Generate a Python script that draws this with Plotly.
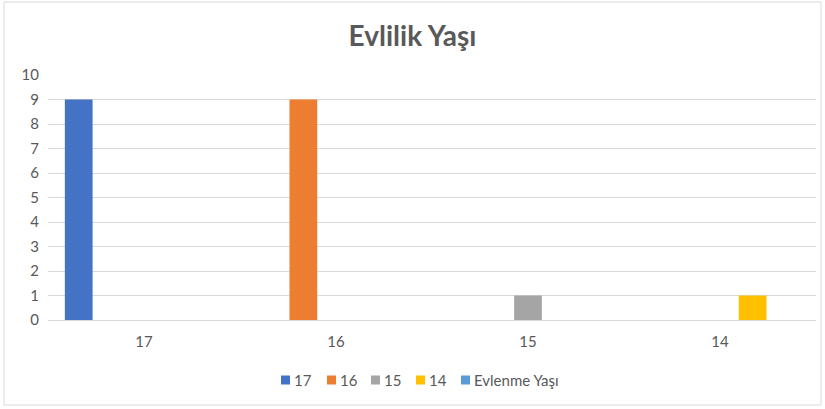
import plotly.graph_objects as go

categories = ["17", "16", "15", "14"]
series_names = ["17", "16", "15", "14", "Evlenme Yaşı"]
s17 = [9, 0, 0, 0]
s16 = [0, 9, 0, 0]
s15 = [0, 0, 1, 0]
s14 = [0, 0, 0, 1]
s_evlenme = [0, 0, 0, 0]
series_values = [s17, s16, s15, s14, s_evlenme]
colors = ["#4472C4", "#ED7D31", "#A5A5A5", "#FFC000", "#5B9BD5"]

fig = go.Figure()
for name, vals, col in zip(series_names, series_values, colors):
    fig.add_trace(go.Bar(x=categories, y=vals, name=name, showlegend=False,
                         marker=dict(color=col, line=dict(width=0))))

W, H = 825, 409
ml, mr, mt, mb = 48, 9, 75, 89
pw = W - ml - mr
ph = H - mt - mb

def px_x(p):
    return (p - ml) / pw

def px_y(p):
    return (H - mb - p) / ph

font_family = "Lato, 'Open Sans', sans-serif"

# manual legend (Excel style: small square right next to its label)
legend_square_x = [281, 327, 371, 416, 461]
legend_y = 380
shapes = [dict(type="rect", xref="paper", yref="paper",
               x0=px_x(4), x1=px_x(821), y0=px_y(405), y1=px_y(2),
               line=dict(color="#D9D9D9", width=1), fillcolor="rgba(0,0,0,0)",
               layer="below")]
annotations = []
for sx, name, col in zip(legend_square_x, series_names, colors):
    shapes.append(dict(type="rect", xref="paper", yref="paper",
                       x0=px_x(sx), x1=px_x(sx + 9),
                       y0=px_y(legend_y + 4.5), y1=px_y(legend_y - 4.5),
                       line=dict(width=0), fillcolor=col))
    annotations.append(dict(text=name, xref="paper", yref="paper",
                            x=px_x(sx + 11), y=px_y(legend_y), xanchor="left",
                            yanchor="middle", showarrow=False,
                            font=dict(family=font_family, size=15, color="#595959")))

fig.update_layout(
    width=W, height=H,
    margin=dict(l=ml, r=mr, t=mt, b=mb),
    paper_bgcolor="white", plot_bgcolor="white",
    barmode="group", bargap=0.15, bargroupgap=0.15,
    showlegend=False,
    title=dict(text="<b>Evlilik Yaşı</b>", x=0.5, xanchor="center",
               y=1 - 36 / H, yanchor="middle",
               font=dict(family=font_family, size=28, color="#595959")),
    font=dict(family=font_family, color="#595959", size=15),
    xaxis=dict(showgrid=False, showline=True, linecolor="#D9D9D9", linewidth=1,
               ticks="", tickfont=dict(size=15, color="#595959"), ticklabelstandoff=8),
    yaxis=dict(range=[0, 10], dtick=1, showgrid=True, gridcolor="#D9D9D9",
               gridwidth=1, zeroline=False, showline=False, ticks="",
               tickfont=dict(size=15, color="#595959"), ticklabelstandoff=8),
    shapes=shapes,
    annotations=annotations,
)

fig.write_html("out.html", config={"displayModeBar": False},
               post_script="document.body.style.margin='0px';")
